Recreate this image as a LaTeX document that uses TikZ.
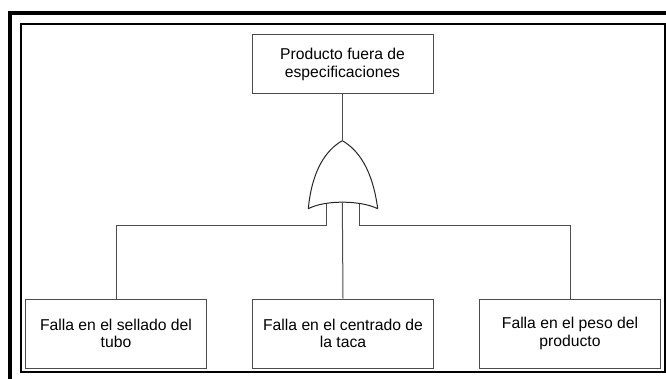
\documentclass[tikz,border=0pt]{standalone}
\usepackage{fontspec}
\setmainfont{Liberation Sans}
\begin{document}
\begin{tikzpicture}[x=1pt,y=-1pt,
  evbox/.style={draw=black!70, line width=1pt, minimum width=181pt, minimum height=69pt,
    align=center, inner sep=0pt, font=\fontsize{15.7}{17.2}\selectfont},
  conn/.style={draw=black!70, line width=1pt},
  gateline/.style={draw=black!85, line width=1pt, line join=round}]
\useasboundingbox (0,0) rectangle (666,379);
% frames
\draw[line width=4pt] (10,395) -- (10,13) -- (690,13);
\draw[line width=2pt] (21,24) rectangle (665,372);
% top event
\node[evbox, minimum height=59pt] (top) at (342.5,64.5) {Producto fuera de\\especificaciones};
% bottom events
\node[evbox] (e1) at (116,333.5) {Falla en el sellado del\\tubo};
\node[evbox] (e2) at (343,333.5) {Falla en el centrado de\\la taca};
\node[evbox] (e3) at (570,333.5) {Falla en el peso del\\producto};
% OR gate
\coordinate (gtop) at (342.3,140.7);
\coordinate (gl) at (308.3,208.7);
\coordinate (gr) at (377.7,208.7);
\draw[gateline, fill=white] (gl) .. controls (312,170) and (326,150) .. (gtop)
  .. controls (358.6,150) and (372.6,170) .. (gr)
  .. controls (360,200) and (324.6,200) .. (gl) -- cycle;
\coordinate (gin1) at (326,203.8);
\coordinate (gin2) at (342.3,202.3);
\coordinate (gin3) at (359.6,203.8);
% connectors
\draw[conn] (top.south -| gtop) -- (gtop);
\draw[conn] (gin1) |- (141,225.7) -| (e1.north);
\draw[conn] (gin2) -- (e2.north);
\draw[conn] (gin3) |- (450,225.7) -| (e3.north);
\end{tikzpicture}
\end{document}
